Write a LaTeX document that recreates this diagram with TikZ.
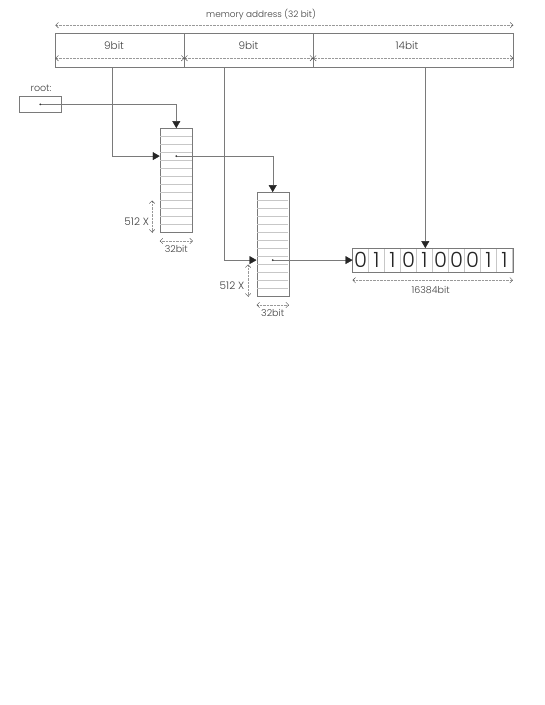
\documentclass[tikz,border=0pt]{standalone}
\usepackage{fontspec}
\setmainfont{Poppins Light}
\usetikzlibrary{arrows.meta,calc,positioning}

\definecolor{linegray}{gray}{0.48}
\definecolor{rowgray}{gray}{0.78}
\definecolor{dimgray}{gray}{0.6}

\tikzset{
  box/.style={draw=linegray, inner sep=0pt},
  ptr/.style={draw=linegray, -{Triangle[length=7pt,width=8pt,color=black!85]}},
  dim/.style={draw=dimgray, densely dotted,
    {Straight Barb[length=2.8pt,width=5.5pt,color=black!70]}-{Straight Barb[length=2.8pt,width=5.5pt,color=black!70]}},
  lbl/.style={font=\fontsize{9.5}{11}\selectfont, text=black!75, inner sep=1pt},
  cell/.style={draw=rowgray, minimum width=16pt, minimum height=23.4pt, inner sep=0pt,
    text=black!85, font=\fontsize{21}{21}\selectfont}
}

\begin{document}
\begin{tikzpicture}[x=1pt,y=-1pt]
\useasboundingbox (0,0) rectangle (545,705);

\node[lbl, font=\fontsize{8.9}{10}\selectfont] (mem) at (261,14.6) {memory address (32 bit)};

\node[box, minimum width=128.6pt, minimum height=33.6pt] (f1) at (119.9,50.2) {};
\node[box, minimum width=128.3pt, minimum height=33.6pt, right=0pt of f1] (f2) {};
\node[box, minimum width=199.8pt, minimum height=33.6pt, right=0pt of f2] (f3) {};

\node[lbl, font=\fontsize{10.5}{12}\selectfont] (b1) at (114,46) {9bit};
\node[lbl, font=\fontsize{10.5}{12}\selectfont] (b2) at (248.4,46) {9bit};
\node[lbl, font=\fontsize{10.5}{12}\selectfont] (b3) at (407,46) {14bit};

\draw[dim] ([yshift=8pt]f1.north west) -- ([yshift=8pt]f3.north east);
\draw[dim] ([yshift=9pt]f1.south west) -- ([yshift=9pt]f1.south east);
\draw[dim] ([yshift=9pt]f2.south west) -- ([yshift=9pt]f2.south east);
\draw[dim] ([yshift=9pt]f3.south west) -- ([yshift=9pt]f3.south east);

\node[lbl] (rootlbl) at (41,88) {root:};
\node[box, minimum width=42.7pt, minimum height=16.7pt] (root) at (40.3,104.3) {};

\node[box, minimum width=32.7pt, minimum height=104pt] (tab1) at (176.3,180.3) {};
\node[box, minimum width=32pt, minimum height=104pt] (tab2) at (272.7,244.3) {};

\foreach \t in {tab1,tab2}
  \foreach \i in {1,...,12}
    \draw[rowgray] ($(\t.north west)+(0.5,8*\i)$) -- ($(\t.north east)+(-0.5,8*\i)$);

\node[inner sep=0pt, minimum width=160pt, minimum height=23.4pt] (bits) at (432.7,260) {};
\foreach \b [count=\i] in {0,1,1,0,1,0,0,0,1,1}
  \node[cell] (c\i) at ($(bits.west)+(16*\i-8,0)$) {\b};
\draw[linegray] (bits.north west) rectangle (bits.south east);

\coordinate (p1) at ($(tab1.north)+(0,28)$);
\coordinate (p2) at ($(tab2.north)+(0,68)$);
\coordinate (a1) at ($(f1.south west)+(56.7,0)$);
\coordinate (a2) at ($(f2.south west)+(39.8,0)$);
\coordinate (a3) at ($(f3.south west)+(112.2,0)$);

\draw[ptr] (root.center) -| (tab1.north);
\draw[ptr] (a1) |- (tab1.west |- p1);
\draw[ptr] (p1) -| (tab2.north);
\draw[ptr] (a2) |- (tab2.west |- p2);
\draw[ptr] (p2) -- (bits.west |- p2);
\draw[ptr] (a3) -- (a3 |- bits.north);

\fill[black!80] (root.center) circle (1pt);
\fill[black!80] (p1) circle (1pt);
\fill[black!80] (p2) circle (1pt);

\draw[dim] ([yshift=-8.5pt]tab1.south west) -- ([yshift=-8.5pt]tab1.south east);
\node[lbl] (w1) at ($(tab1.south)+(0,16)$) {32bit};
\draw[dim] ([xshift=-7.7pt,yshift=32pt]tab1.south west) -- ([xshift=-7.7pt]tab1.south west);
\node[lbl, font=\fontsize{10.5}{12}\selectfont, anchor=east] (n1) at ($(tab1.south west)+(-9.5,-11)$) {512 X};

\draw[dim] ([yshift=-8.5pt]tab2.south west) -- ([yshift=-8.5pt]tab2.south east);
\node[lbl] (w2) at ($(tab2.south)+(0,16)$) {32bit};
\draw[dim] ([xshift=-8.4pt,yshift=32pt]tab2.south west) -- ([xshift=-8.4pt]tab2.south west);
\node[lbl, font=\fontsize{10.5}{12}\selectfont, anchor=east] (n2) at ($(tab2.south west)+(-11,-11)$) {512 X};

\draw[dim] ([yshift=-8.3pt]bits.south west) -- ([yshift=-8.3pt]bits.south east);
\node[lbl] (w3) at ($(bits.south)+(-2,18.3)$) {16384bit};

\end{tikzpicture}
\end{document}
